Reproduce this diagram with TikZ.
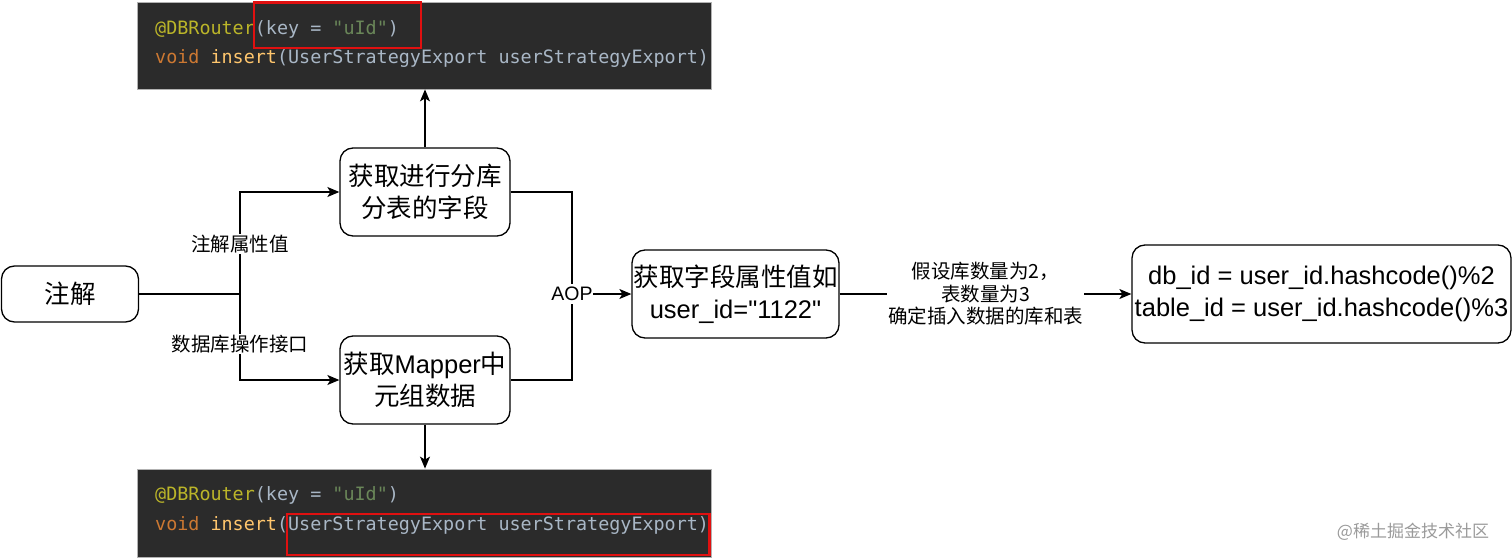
\documentclass[tikz,border=0pt]{standalone}
\usepackage{fontspec}
\setmainfont{Liberation Sans}
\newfontfamily\latin{Liberation Sans}
\newfontfamily\cjk{Noto Sans CJK SC}
\newfontfamily\codefont{DejaVu Sans Mono}
\usetikzlibrary{arrows.meta}
\definecolor{codebg}{HTML}{2B2B2B}
\definecolor{codeannot}{HTML}{BBB529}
\definecolor{codeplain}{HTML}{A9B7C6}
\definecolor{codestr}{HTML}{6A8759}
\definecolor{codekw}{HTML}{CC7832}
\definecolor{codefn}{HTML}{FFC66D}
\definecolor{markred}{HTML}{E01010}
\definecolor{wmgray}{HTML}{9A9A9A}
\newcommand{\zh}[1]{{\cjk #1}}

\begin{document}
\begin{tikzpicture}[x=1pt,y=-1pt,
	box/.style={draw, line width=1.3pt, rounded corners=13pt, align=center, inner sep=0pt, font=\latin\fontsize{25.5}{32}\selectfont},
	lbl/.style={fill=white, inner sep=1pt, align=center, font=\latin\fontsize{19.5}{22.5}\selectfont},
	flow/.style={line width=1.3pt},
	arr/.style={flow, -{Stealth[length=12pt,width=10pt,inset=3pt]}},
	codepanel/.style={fill=codebg, draw=gray!60, line width=0.8pt, inner sep=0pt, minimum width=574pt},
	codeline/.style={anchor=base west, inner sep=0pt, font=\codefont\fontsize{18.4}{18.4}\selectfont, text=codeplain},
	redmark/.style={draw=markred, line width=2.5pt}]
	\useasboundingbox (0,0) rectangle (1512,559);
	% code screenshots
	\node[codepanel, minimum height=87pt] (topcode) at (424,45.5) {};
	\node[codeline] (topline1) at (155,34.5) {\textcolor{codeannot}{@DBRouter}(key = \textcolor{codestr}{"uId"})};
	\node[codeline] (topline2) at (155,63.5) {\textcolor{codekw}{void} \textcolor{codefn}{insert}(UserStrategyExport userStrategyExport)};
	\draw[redmark] (254,2.5) rectangle (421,48);
	\node[codepanel, minimum height=88pt] (botcode) at (424,513) {};
	\node[codeline] (botline1) at (155,500) {\textcolor{codeannot}{@DBRouter}(key = \textcolor{codestr}{"uId"})};
	\node[codeline] (botline2) at (155,530) {\textcolor{codekw}{void} \textcolor{codefn}{insert}(UserStrategyExport userStrategyExport)};
	\draw[redmark] (287,514) rectangle (709.5,555);
	% flow boxes
	\node[box, minimum width=137pt, minimum height=56pt] (note) at (70,294) {\zh{注解}};
	\node[box, minimum width=170pt, minimum height=88pt] (field) at (425,192) {\zh{获取进行分库}\\\zh{分表的字段}};
	\node[box, minimum width=170pt, minimum height=88pt] (mapper) at (425,380) {\zh{获取}Mapper\zh{中}\\\zh{元组数据}};
	\node[box, minimum width=207pt, minimum height=88pt] (value) at (735.5,294) {\zh{获取字段属性值如}\\user\_id="1122"};
	\node[box, minimum width=379pt, minimum height=98pt] (hash) at (1321.5,294) {db\_id = user\_id.hashcode()\%2\\table\_id = user\_id.hashcode()\%3};
	\coordinate (split) at (240,294);
	\coordinate (aop) at (572,294);
	% connectors
	\draw[flow] (note.east) -- (split);
	\draw[arr] (split) |- node[lbl, pos=0.245] {\zh{注解属性值}} (field.west);
	\draw[arr] (split) |- node[lbl, pos=0.29] {\zh{数据库操作接口}} (mapper.west);
	\draw[flow] (field.east) -| (aop) |- (mapper.east);
	\draw[arr] (aop) -- node[lbl, pos=0, inner xsep=0pt, inner ysep=3pt] {AOP} (value.west);
	\draw[arr] (value.east) -- node[lbl] {\zh{假设库数量为2，}\\\zh{表数量为3}\\\zh{确定插入数据的库和表}} (hash.west);
	\draw[arr] (field.north) -- (field.north |- topcode.south);
	\draw[arr] (mapper.south) -- (mapper.south |- botcode.north);
	\node[font=\cjk\fontsize{17}{17}\selectfont, text=wmgray] (mark) at (1413,532) {@稀土掘金技术社区};
\end{tikzpicture}
\end{document}
